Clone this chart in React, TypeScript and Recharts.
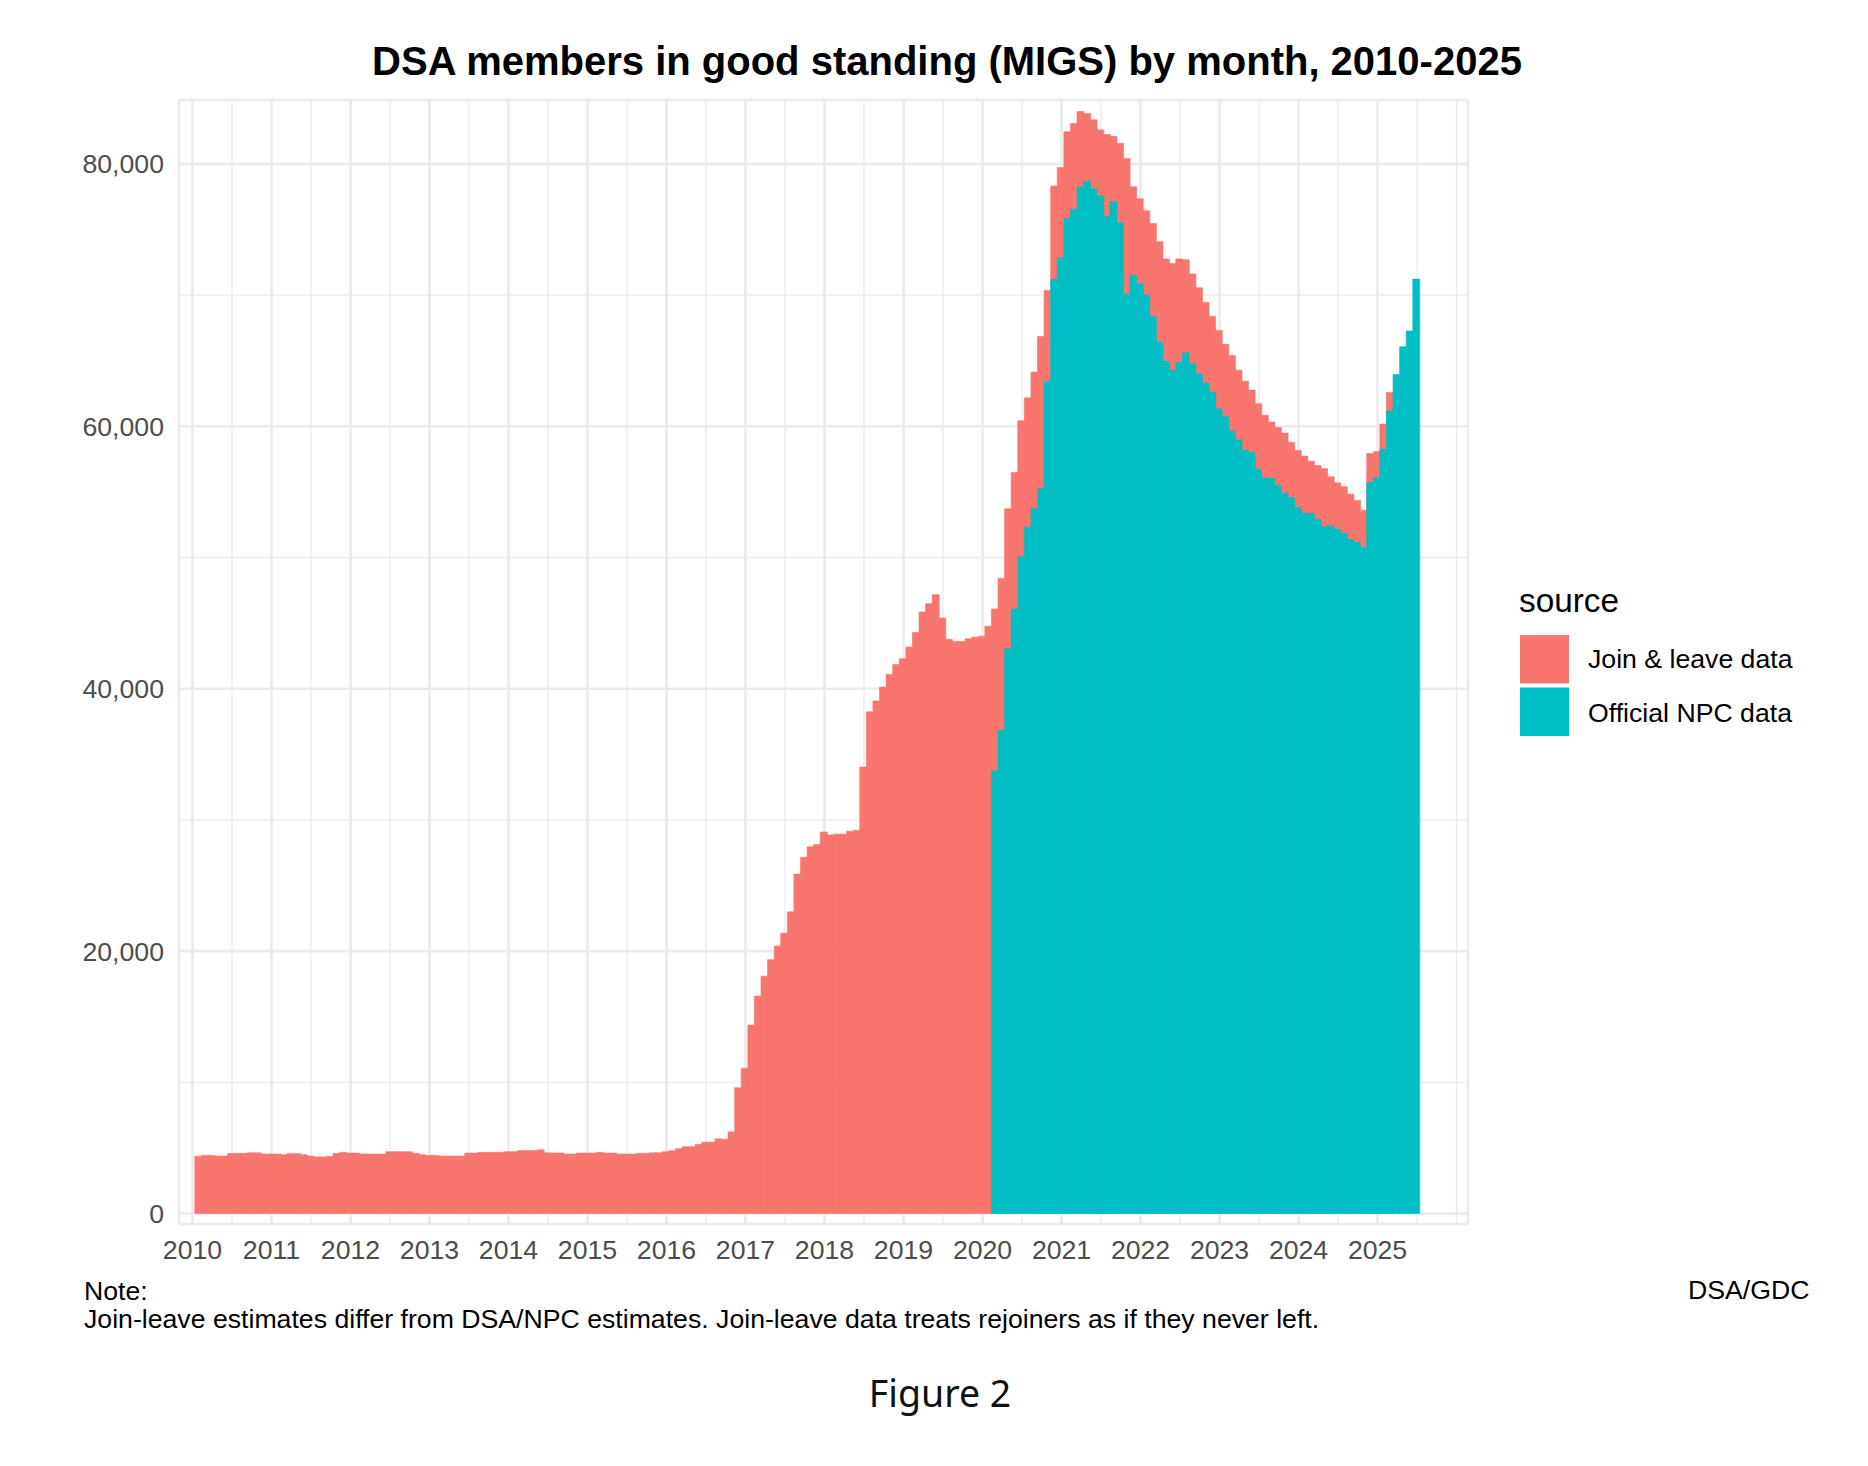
import React from 'react';
import { ComposedChart, Bar, XAxis, YAxis, CartesianGrid } from 'recharts';

// ---------- data ----------
const START_YEAR = 2010;
const MONTH_COUNT = 186; // Jan 2010 .. Jun 2025
const MONTHS: string[] = Array.from({ length: MONTH_COUNT }, (_, i) =>
  `${START_YEAR + Math.floor(i / 12)}-${String((i % 12) + 1).padStart(2, '0')}`
);
// bars are dated late in each month (approx. the 26th)
const MONTH_DAY_OFFSET = 0.85;

// Join & leave data, Jan 2010 .. Feb 2025
const JOIN_LEAVE: number[] = [
  4360, 4430, 4430, 4380, 4380, 4580, 4580, 4590, 4630, 4630, 4530, 4530,
  4530, 4480, 4560, 4560, 4480, 4380, 4310, 4310, 4360, 4580, 4660, 4610,
  4610, 4530, 4530, 4530, 4530, 4710, 4710, 4710, 4710, 4580, 4480, 4430,
  4430, 4380, 4380, 4380, 4380, 4610, 4610, 4660, 4660, 4660, 4660, 4710,
  4710, 4790, 4790, 4790, 4860, 4630, 4610, 4610, 4530, 4530, 4610, 4610,
  4610, 4660, 4610, 4610, 4530, 4530, 4530, 4580, 4580, 4630, 4630, 4710,
  4790, 4940, 5090, 5090, 5260, 5440, 5440, 5690, 5650, 6230, 9590, 11080,
  14360, 16570, 18090, 19350, 20380, 21370, 22990, 25870, 27160, 27950, 28120, 29080,
  28850, 28910, 28910, 29140, 29210, 34040, 38240, 39070, 40130, 41090, 41850, 42280,
  43170, 44290, 45850, 46480, 47170, 45390, 43760, 43600, 43600, 43800, 43930, 44000,
  44760, 46080, 48390, 53710, 56470, 60420, 62170, 64130, 66850, 70350, 78320, 79720,
  82450, 83080, 83990, 83850, 83360, 82590, 82240, 82100, 81570, 80420, 78250, 77340,
  76430, 75450, 74060, 72760, 72410, 72760, 72690, 71610, 70560, 69440, 68390, 67310,
  66260, 65400, 64280, 63440, 62760, 61720, 60850, 60320, 59910, 59480, 58790, 58160,
  57730, 57340, 57010, 56790, 56150, 55690, 55390, 54830, 54350, 53610, 57930, 58080,
  60170, 62580,
];

// Official NPC data starts Feb 2020 (month index 121) .. Jun 2025
const OFFICIAL_NPC_START = 121;
const OFFICIAL_NPC: number[] = [
  33740, 36820, 43040, 46080, 50100, 52310, 53710, 55280, 63430, 71190, 72830,
  75840, 76540, 78250, 78670, 78080, 77550, 76010, 77130, 75520, 70070, 71500, 70870,
  70000, 68360, 66430, 64930, 64270, 64860, 65600, 64760, 63990, 63290, 62620, 61330,
  60730, 59630, 58970, 58180, 57980, 56730, 56070, 56020, 55460, 54900, 54570, 53810,
  53380, 53350, 52900, 52340, 52410, 52130, 51830, 51370, 51140, 50740, 55720, 56070,
  58230, 61160, 63950, 66060, 67260, 71220,
];

const SERIES_NAMES = ['Join & leave data', 'Official NPC data'];
const SERIES_COLORS = ['#F8766D', '#00BFC4'];

const YEAR_LABELS = [2010, 2011, 2012, 2013, 2014, 2015, 2016, 2017, 2018, 2019, 2020, 2021, 2022, 2023, 2024, 2025];
const X_MINOR_BREAKS = [
  2010.5, 2011.5, 2012.5, 2013.5, 2014.5, 2015.5, 2016.5, 2017.5,
  2018.5, 2019.5, 2020.5, 2021.5, 2022.5, 2023.5, 2024.5, 2025.5, 2026,
];
const Y_MAJOR = [0, 20000, 40000, 60000, 80000];
const Y_MINOR = [10000, 30000, 50000, 70000];

const TITLE = 'DSA members in good standing (MIGS) by month, 2010-2025';
const LEGEND_TITLE = 'source';
const NOTE_LINES = [
  'Note:',
  'Join-leave estimates differ from DSA/NPC estimates. Join-leave data treats rejoiners as if they never left.',
];
const SOURCE_TEXT = 'DSA/GDC';
const FIGURE_LABEL = 'Figure 2';

// ---------- table ----------
const rows = MONTHS.map((m, i) => {
  const [y, mo] = m.split('-').map(Number);
  const npcIdx = i - OFFICIAL_NPC_START;
  return {
    month: m,
    t: y + (mo - 1 + MONTH_DAY_OFFSET) / 12,
    joinLeave: i < JOIN_LEAVE.length ? JOIN_LEAVE[i] : null,
    npc: npcIdx >= 0 && npcIdx < OFFICIAL_NPC.length ? OFFICIAL_NPC[npcIdx] : null,
  };
});

const X_DOMAIN: [number, number] = [2009.829, 2026.145];
const Y_DOMAIN: [number, number] = [-800, 84870];
const allXTicks = [...YEAR_LABELS, ...X_MINOR_BREAKS].sort((a, b) => a - b);
const allYTicks = [...Y_MAJOR, ...Y_MINOR].sort((a, b) => a - b);

const FONT = "'Liberation Sans', Arial, Helvetica, sans-serif";
const GRID = '#EBEBEB';
const AXIS_TEXT = '#4D4D4D';

export default function App() {
  return (
    <div style={{ position: 'absolute', left: 0, top: 0, width: 1868, height: 1466, background: '#fff', overflow: 'hidden' }}>
      <ComposedChart
        width={1868}
        height={1466}
        data={rows}
        margin={{ top: 100, right: 400, bottom: 192, left: 0 }}
        barCategoryGap={0}
        barGap={0}
      >
        <XAxis
          xAxisId="a"
          dataKey="t"
          type="number"
          domain={X_DOMAIN}
          allowDataOverflow
          ticks={allXTicks}
          interval={0}
          tickFormatter={(v: number) => (YEAR_LABELS.includes(v) ? String(v) : '')}
          axisLine={false}
          tickLine={false}
          tickSize={0}
          tickMargin={16}
          height={50}
          tick={{ fill: AXIS_TEXT, fontSize: 26.67, fontFamily: FONT }}
        />
        <XAxis
          xAxisId="b"
          dataKey="t"
          type="number"
          domain={X_DOMAIN}
          allowDataOverflow
          ticks={YEAR_LABELS}
          interval={0}
          height={0}
          hide
        />
        <YAxis
          yAxisId="a"
          type="number"
          domain={Y_DOMAIN}
          allowDataOverflow
          ticks={allYTicks}
          interval={0}
          tickFormatter={(v: number) => (Y_MAJOR.includes(v) ? v.toLocaleString('en-US') : '')}
          axisLine={false}
          tickLine={false}
          tickSize={0}
          tickMargin={15}
          width={179}
          tick={{ fill: AXIS_TEXT, fontSize: 26.67, fontFamily: FONT }}
        />
        <YAxis
          yAxisId="b"
          type="number"
          domain={Y_DOMAIN}
          allowDataOverflow
          ticks={Y_MAJOR}
          interval={0}
          width={0}
          hide
        />
        <CartesianGrid xAxisId="a" yAxisId="a" stroke={GRID} strokeWidth={1.3} fill="none" />
        <CartesianGrid xAxisId="b" yAxisId="b" stroke={GRID} strokeWidth={2.6} fill="none" />
        <Bar
          xAxisId="a"
          yAxisId="a"
          dataKey="joinLeave"
          name={SERIES_NAMES[0]}
          fill={SERIES_COLORS[0]}
          stroke={SERIES_COLORS[0]}
          strokeWidth={0.6}
          isAnimationActive={false}
        />
        <Bar
          xAxisId="b"
          yAxisId="a"
          dataKey="npc"
          name={SERIES_NAMES[1]}
          fill={SERIES_COLORS[1]}
          stroke={SERIES_COLORS[1]}
          strokeWidth={0.6}
          isAnimationActive={false}
        />
      </ComposedChart>

      <svg
        width={1868}
        height={1466}
        style={{ position: 'absolute', left: 0, top: 0, pointerEvents: 'none' }}
      >
        <text x={947} y={75} textAnchor="middle" fontFamily={FONT} fontWeight="bold" fontSize={40} fill="#000">
          {TITLE}
        </text>

        {/* legend */}
        <text x={1519} y={612} fontFamily={FONT} fontSize={33.3} fill="#000">{LEGEND_TITLE}</text>
        {SERIES_NAMES.map((name, i) => (
          <g key={name}>
            <rect x={1520} y={635 + i * 52.5} width={49} height={48.5} fill={SERIES_COLORS[i]} />
            <text x={1588} y={668.3 + i * 53.4} fontFamily={FONT} fontSize={26.67} fill="#000">{name}</text>
          </g>
        ))}

        {/* caption */}
        {NOTE_LINES.map((line, i) => (
          <text key={i} x={84} y={1300 + i * 28.3} fontFamily={FONT} fontSize={26.67} fill="#000">{line}</text>
        ))}
        <text x={1809.5} y={1299.3} textAnchor="end" fontFamily={FONT} fontSize={26.67} fill="#000">{SOURCE_TEXT}</text>

        <text x={940} y={1406.7} textAnchor="middle" fontFamily="'Noto Sans', 'Open Sans', sans-serif" fontSize={37.5} fill="#111">
          {FIGURE_LABEL}
        </text>
      </svg>
    </div>
  );
}
